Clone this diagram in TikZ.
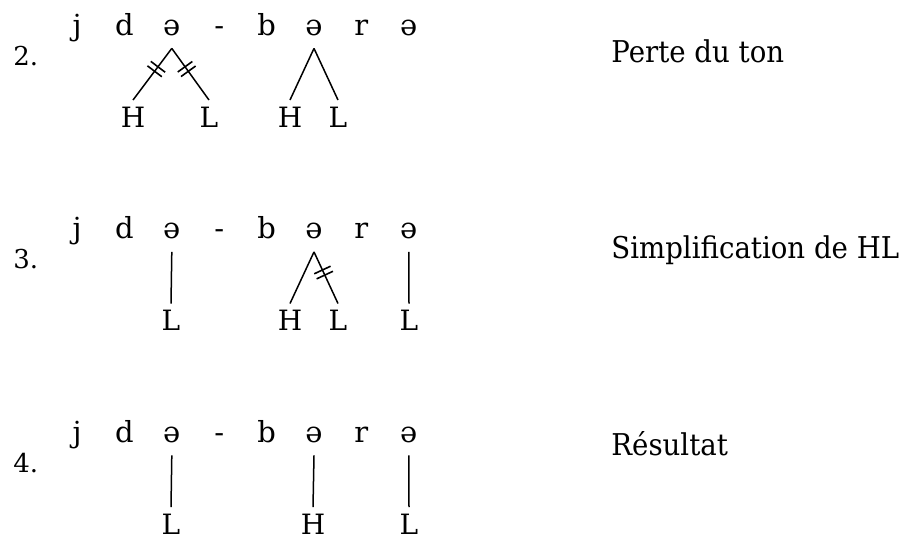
\documentclass[tikz,border=0pt]{standalone}
\usepackage{fontspec}
\setmainfont{DejaVu Serif}
\newfontfamily\glossfont{DejaVu Serif}[FakeStretch=0.92]
\usetikzlibrary{positioning,decorations.markings}

\begin{document}
\begin{tikzpicture}[x=0.5pt, y=-0.5pt,
    seg/.style={anchor=base, font=\fontsize{14.5}{16}\selectfont, text depth=0pt, inner ysep=6.5pt, inner xsep=0pt},
    tone/.style={anchor=north, font=\fontsize{14}{16}\selectfont, text height=0.73em, text depth=0pt, inner ysep=6pt, inner xsep=0pt},
    num/.style={anchor=base west, font=\fontsize{13}{16}\selectfont, inner sep=0pt},
    gloss/.style={anchor=base west, font=\glossfont\fontsize{15}{18}\selectfont, inner sep=0pt},
    assoc/.style={line width=0.75pt},
    delink/.style={assoc, postaction={decorate}, decoration={markings,
        mark=at position 0.4 with {\draw[line width=0.8pt] (-1.4pt,-4.5pt) -- (-1.4pt,4.5pt) (1.4pt,-4.5pt) -- (1.4pt,4.5pt);}}}]
    \useasboundingbox (0,0) rectangle (905,543);
    % the three steps share the same segments
    \foreach \r/\n in {0/2,1/3,2/4} {
        \node[num] (n\n) at (13,65+203.5*\r) {\n.};
        \foreach \s [count=\i] in {j,d,ə,-,b,ə,r,ə}
            \node[seg] (r\n s\i) at (77+47.4*\i-47.4,35+203.5*\r) {\s};
    }
    % step 2
    \node[tone] (r2t1) at (133,100) {H};
    \node[tone] (r2t2) at (209,100) {L};
    \node[tone] (r2t3) at (290,100) {H};
    \node[tone] (r2t4) at (338,100) {L};
    \draw[delink] (r2s3.south) -- (r2t1.north);
    \draw[delink] (r2s3.south) -- (r2t2.north);
    \draw[assoc] (r2s6.south) -- (r2t3.north);
    \draw[assoc] (r2s6.south) -- (r2t4.north);
    \node[gloss] (g2) at (611,62) {Perte du ton};
    % step 3
    \node[tone] (r3t1) at (171,303.5) {L};
    \node[tone] (r3t2) at (290,303.5) {H};
    \node[tone] (r3t3) at (338,303.5) {L};
    \node[tone] (r3t4) at (409,303.5) {L};
    \draw[assoc] (r3s3.south) -- (r3t1.north);
    \draw[assoc] (r3s6.south) -- (r3t2.north);
    \draw[delink] (r3s6.south) -- (r3t3.north);
    \draw[assoc] (r3s8.south) -- (r3t4.north);
    \node[gloss] (g3) at (611,258) {Simplification de HL};
    % step 4
    \node[tone] (r4t1) at (171,507) {L};
    \node[tone] (r4t2) at (313,507) {H};
    \node[tone] (r4t3) at (409,507) {L};
    \draw[assoc] (r4s3.south) -- (r4t1.north);
    \draw[assoc] (r4s6.south) -- (r4t2.north);
    \draw[assoc] (r4s8.south) -- (r4t3.north);
    \node[gloss] (g4) at (611,455) {Résultat};
\end{tikzpicture}
\end{document}
